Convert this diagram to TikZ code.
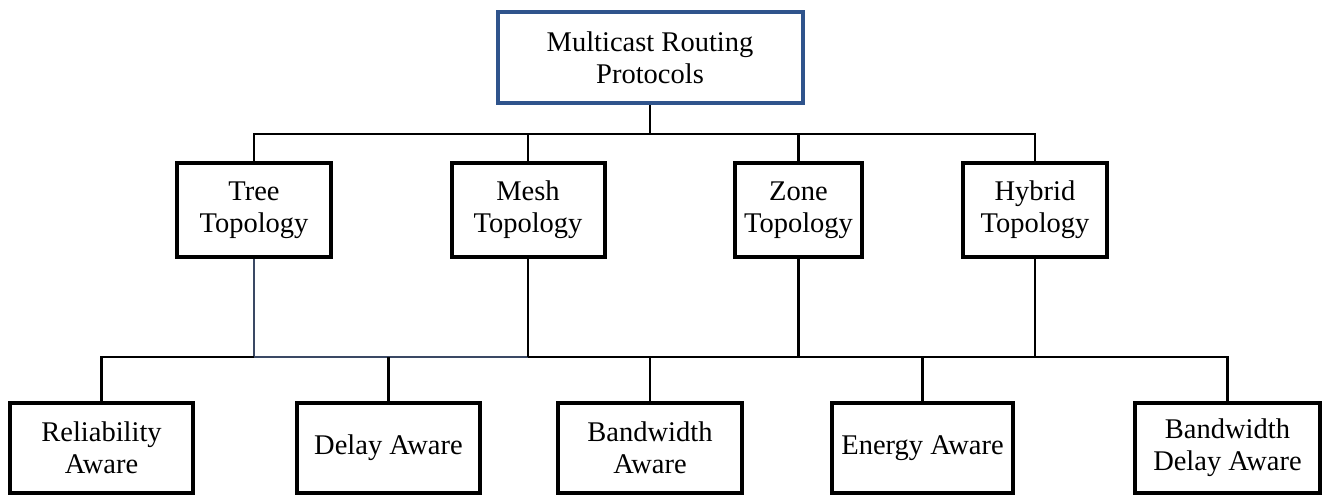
\documentclass[tikz,border=0pt]{standalone}
\usepackage{fontspec}
\setmainfont{Liberation Serif}
\definecolor{rootblue}{RGB}{47,84,140}
\definecolor{linkblue}{RGB}{58,72,100}
\begin{document}
\begin{tikzpicture}[x=1pt,y=-1pt,
  box/.style={draw=black, line width=4pt, fill=white, inner sep=0pt, align=center,
    font=\fontsize{28.5}{32}\selectfont},
  rootbox/.style={box, draw=rootblue},
  wire/.style={draw=black, line width=2.6pt},
  thinwire/.style={draw=linkblue, line width=2pt}]
\useasboundingbox (0,0) rectangle (1323,496);

% levels of the two buses
\coordinate (busA) at (0,134);
\coordinate (busB) at (0,357);

% root
\node[rootbox, minimum width=305pt, minimum height=91pt] (root) at (650,57.5) {Multicast Routing\\Protocols};

% topologies
\node[box, minimum width=154pt, minimum height=94pt] (tree) at (254,210) {Tree\\Topology};
\node[box, minimum width=153pt, minimum height=94pt] (mesh) at (528,210) {Mesh\\Topology};
\node[box, minimum width=127pt, minimum height=94pt] (zone) at (798.5,210) {Zone\\Topology};
\node[box, minimum width=144pt, minimum height=94pt] (hyb) at (1035,210) {Hybrid\\Topology};

% aware classes
\node[box, minimum width=183pt, minimum height=90pt] (rel) at (101.5,448) {Reliability\\Aware};
\node[box, minimum width=183pt, minimum height=90pt] (del) at (388.5,448) {Delay Aware};
\node[box, minimum width=184pt, minimum height=90pt] (bw) at (650,448) {Bandwidth\\Aware};
\node[box, minimum width=181pt, minimum height=90pt] (en) at (922.5,448) {Energy Aware};
\node[box, minimum width=185pt, minimum height=90pt] (bwd) at (1227.5,448) {Bandwidth\\Delay Aware};

% root to topologies
\draw[wire] (root.south) -- (root.south |- busA);
\draw[wire, line cap=rect] (tree.north) -- (tree.north |- busA) -- (hyb.north |- busA) -- (hyb.north);
\draw[wire] (mesh.north) -- (mesh.north |- busA);
\draw[wire] (zone.north) -- (zone.north |- busA);

% topologies to aware classes
\draw[thinwire] (tree.south) -- (tree.south |- busB) -- (mesh.south |- busB);
\draw[wire] (mesh.south) -- (mesh.south |- busB);
\draw[wire] (zone.south) -- (zone.south |- busB);
\draw[wire] (hyb.south) -- (hyb.south |- busB);
\draw[wire] (rel.north) -- (rel.north |- busB) -- (tree.south |- busB);
\draw[wire] (mesh.south |- busB) -- (bwd.north |- busB) -- (bwd.north);
\draw[wire] (del.north) -- (del.north |- busB);
\draw[wire] (bw.north) -- (bw.north |- busB);
\draw[wire] (en.north) -- (en.north |- busB);
\end{tikzpicture}
\end{document}
